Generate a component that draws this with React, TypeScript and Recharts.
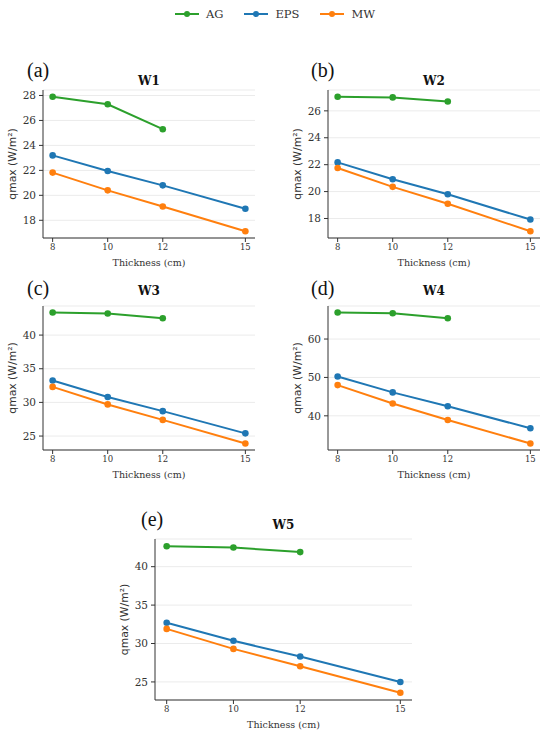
import { LineChart, Line, CartesianGrid, XAxis, YAxis, Legend } from 'recharts';

const thickness = [8, 10, 12, 15];

const w1AG = [27.9, 27.3, 25.3];
const w1EPS = [23.2, 21.95, 20.8, 18.92];
const w1MW = [21.82, 20.4, 19.1, 17.12];

const w2AG = [27.05, 27.0, 26.7];
const w2EPS = [22.17, 20.92, 19.8, 17.92];
const w2MW = [21.75, 20.35, 19.1, 17.05];

const w3AG = [43.35, 43.2, 42.5];
const w3EPS = [33.25, 30.8, 28.7, 25.4];
const w3MW = [32.3, 29.7, 27.4, 23.9];

const w4AG = [66.9, 66.7, 65.4];
const w4EPS = [50.25, 46.1, 42.5, 36.75];
const w4MW = [48.0, 43.2, 38.9, 32.8];

const w5AG = [42.65, 42.5, 41.9];
const w5EPS = [32.7, 30.35, 28.3, 25.0];
const w5MW = [31.9, 29.3, 27.05, 23.6];

const w1Ticks = [18, 20, 22, 24, 26, 28];
const w2Ticks = [18, 20, 22, 24, 26];
const w3Ticks = [25, 30, 35, 40];
const w4Ticks = [40, 50, 60];
const w5Ticks = [25, 30, 35, 40];

const COLORS = { AG: '#2ca02c', EPS: '#1f77b4', MW: '#ff7f0e' };
const SERIF = '"DejaVu Serif", serif';
const SANS = '"DejaVu Sans", sans-serif';
const INK = '#333';

const Y_W = 43;
const M_TOP = 10;
const X_H = 36;

const panels = [
  { letter: '(a)', title: 'W1', ag: w1AG, eps: w1EPS, mw: w1MW, ticks: w1Ticks, plotL: 43, plotT: 90, plotW: 212, plotH: 148, letterX: 27, letterY: 59, titleY: 74, legend: true },
  { letter: '(b)', title: 'W2', ag: w2AG, eps: w2EPS, mw: w2MW, ticks: w2Ticks, plotL: 328, plotT: 90, plotW: 212, plotH: 148, letterX: 311, letterY: 59, titleY: 74 },
  { letter: '(c)', title: 'W3', ag: w3AG, eps: w3EPS, mw: w3MW, ticks: w3Ticks, plotL: 43, plotT: 306, plotW: 212, plotH: 144, letterX: 27, letterY: 277, titleY: 284 },
  { letter: '(d)', title: 'W4', ag: w4AG, eps: w4EPS, mw: w4MW, ticks: w4Ticks, plotL: 328, plotT: 306, plotW: 212, plotH: 144, letterX: 311, letterY: 277, titleY: 284 },
  { letter: '(e)', title: 'W5', ag: w5AG, eps: w5EPS, mw: w5MW, ticks: w5Ticks, plotL: 155, plotT: 539, plotW: 257, plotH: 161, letterX: 141, letterY: 508, titleY: 518 },
];

const renderLegend = (props: any) => (
  <div style={{ display: 'flex', justifyContent: 'center', gap: 21, fontFamily: SERIF, fontSize: 11.5, color: INK }}>
    {(props.payload || []).map((e: any) => (
      <span key={e.value} style={{ display: 'flex', alignItems: 'center', gap: 7 }}>
        <svg width={24} height={8}>
          <line x1={0} y1={4} x2={24} y2={4} stroke={e.color} strokeWidth={2} />
          <circle cx={12} cy={4} r={3} fill={e.color} />
        </svg>
        <span>{e.value}</span>
      </span>
    ))}
  </div>
);

function Panel({ p }: { p: any }) {
  const width = Y_W + p.plotW + 6;
  const height = M_TOP + p.plotH + X_H;
  const left = p.plotL - Y_W;
  const top = p.plotT - M_TOP;
  const data = thickness.map((t, i) => ({
    t,
    AG: i < p.ag.length ? p.ag[i] : null,
    EPS: p.eps[i],
    MW: p.mw[i],
  }));
  const all = [...p.ag, ...p.eps, ...p.mw];
  const lo = Math.min(...all);
  const hi = Math.max(...all);
  const pad = (hi - lo) * 0.05;

  return (
    <>
      <div style={{ position: 'absolute', left: p.letterX, top: p.letterY, fontFamily: '"Liberation Serif", serif', fontSize: 20, color: '#111' }}>
        {p.letter}
      </div>
      <div style={{ position: 'absolute', left: p.plotL, width: p.plotW, top: p.titleY, textAlign: 'center', fontFamily: SERIF, fontWeight: 'bold', fontSize: 12, color: '#111' }}>
        {p.title}
      </div>
      <div style={{ position: 'absolute', left, top }}>
        <LineChart width={width} height={height} data={data} margin={{ top: M_TOP, right: 6, bottom: 0, left: 0 }}>
          <CartesianGrid vertical={false} stroke="#ebebeb" />
          <XAxis
            dataKey="t"
            type="number"
            domain={[7.65, 15.35]}
            ticks={thickness}
            height={X_H}
            tickSize={4}
            tickMargin={2}
            stroke={INK}
            tick={{ fontSize: 8.5, fill: INK, fontFamily: SERIF }}
            label={{
              content: () => (
                <text x={Y_W + p.plotW / 2} y={M_TOP + p.plotH + 24} textAnchor="middle" dominantBaseline="central" fontFamily={SERIF} fontSize={9.5} fill={INK}>
                  Thickness (cm)
                </text>
              ),
            }}
          />
          <YAxis
            type="number"
            domain={[lo - pad, hi + pad]}
            ticks={p.ticks}
            width={Y_W}
            tickSize={4}
            tickMargin={3}
            stroke={INK}
            tick={{ fontSize: 10.5, fill: INK, fontFamily: SERIF }}
            label={{
              content: () => (
                <text
                  x={Y_W - 31}
                  y={M_TOP + p.plotH / 2}
                  transform={`rotate(-90 ${Y_W - 31} ${M_TOP + p.plotH / 2})`}
                  textAnchor="middle"
                  dominantBaseline="central"
                  fontFamily={SANS}
                  fontSize={10.8}
                  fill={INK}
                >
                  qmax (W/m²)
                </text>
              ),
            }}
          />
          {p.legend && (
            <Legend
              layout="horizontal"
              verticalAlign="middle"
              align="center"
              content={renderLegend}
              wrapperStyle={{ left: -left, top: 7 - top, width: 550, height: 16 }}
            />
          )}
          {(['AG', 'EPS', 'MW'] as const).map((k) => (
            <Line
              key={k}
              name={k}
              dataKey={k}
              stroke={COLORS[k]}
              strokeWidth={2}
              dot={{ r: 3.3, fill: COLORS[k], stroke: COLORS[k], strokeWidth: 0 }}
              activeDot={false}
              isAnimationActive={false}
            />
          ))}
        </LineChart>
      </div>
    </>
  );
}

export default function App() {
  return (
    <div style={{ position: 'absolute', left: 0, top: 0, width: 550, height: 738, background: '#fff' }}>
      {panels.map((p) => (
        <Panel key={p.title} p={p} />
      ))}
    </div>
  );
}
